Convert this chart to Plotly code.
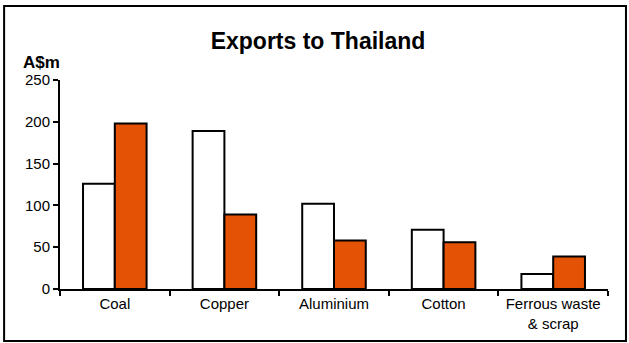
import plotly.graph_objects as go

categories = ["Coal", "Copper", "Aluminium", "Cotton", "Ferrous waste<br>& scrap"]
series_a = [126, 189, 102, 71, 18]
series_b = [198, 89, 58, 56, 39]
y_ticks = [0, 50, 100, 150, 200, 250]

fig = go.Figure()
fig.add_trace(go.Bar(x=categories, y=series_a, marker=dict(color="white", line=dict(color="black", width=2))))
fig.add_trace(go.Bar(x=categories, y=series_b, marker=dict(color="#E35205", line=dict(color="black", width=2))))

font = "Liberation Sans, Arial, sans-serif"
fig.update_layout(
    width=629, height=343,
    margin=dict(l=60, r=21, t=80, b=54),
    paper_bgcolor="white", plot_bgcolor="white",
    showlegend=False,
    barmode="group", bargap=0.42, bargroupgap=0,
    font=dict(family=font, size=15, color="black"),
    title=dict(text="<b>Exports to Thailand</b>", x=0.5056, xanchor="center", y=0.880, yanchor="middle",
               font=dict(family=font, size=23, color="black")),
    xaxis=dict(showline=True, linecolor="black", linewidth=2, ticks="outside", tickson="boundaries",
               ticklen=5, tickwidth=2, tickcolor="black", showgrid=False, tickfont=dict(size=15)),
    yaxis=dict(range=[0, 250], tickvals=y_ticks, showline=True, linecolor="black", linewidth=2,
               ticks="outside", ticklen=5, tickwidth=2, tickcolor="black", showgrid=False,
               zeroline=False, tickfont=dict(size=15), ticksuffix="\u00a0"),
)
fig.add_annotation(text="<b>A$m</b>", xref="paper", yref="paper", x=0.0036, y=1.086,
                   xanchor="right", yanchor="middle", showarrow=False,
                   font=dict(family=font, size=17, color="black"))
fig.add_shape(type="rect", xref="paper", yref="paper", x0=-0.102, x1=1.0328, y0=-0.249, y1=1.354,
              line=dict(color="black", width=2), fillcolor="rgba(0,0,0,0)")
fig.write_html("out.html", post_script="document.body.style.margin='0';",
               config={"displayModeBar": False})
